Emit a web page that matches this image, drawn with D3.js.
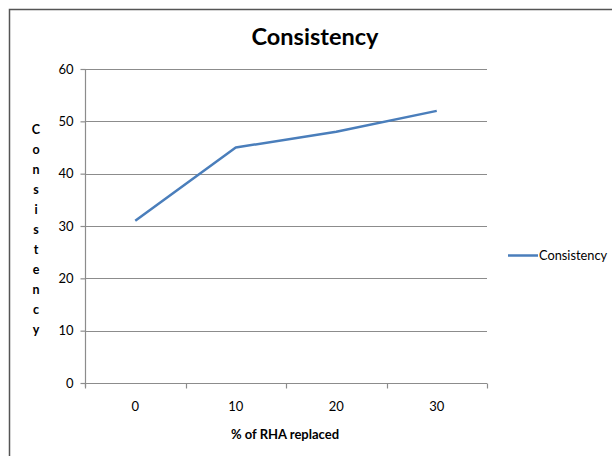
<!DOCTYPE html>
<html>
<head>
<meta charset="utf-8">
<script src="https://cdn.jsdelivr.net/npm/d3@7"></script>
<style>
  html, body { margin: 0; padding: 0; background: #fff; }
  svg { display: block; }
  text { font-family: Lato, "Open Sans", sans-serif; fill: #000; }
</style>
</head>
<body>
<svg id="chart" width="612" height="456"></svg>
<script>
// Consistency vs. % of RHA replaced
const categories = ["0", "10", "20", "30"];
const consistency = [31, 45, 48, 52];
const yTicks = [0, 10, 20, 30, 40, 50, 60];
const seriesName = "Consistency";
const chartTitle = "Consistency";
const xTitle = "% of RHA replaced";
const yTitle = "Consistency";

const svg = d3.select("#chart");
const plot = { left: 85, right: 487, top: 69, bottom: 383 };

// outer frame
svg.append("path")
  .attr("d", "M9.5,470 V9.5 H620")
  .attr("fill", "none")
  .attr("stroke", "#555")
  .attr("stroke-width", 1.5);

const x = d3.scaleBand().domain(categories).range([plot.left, plot.right]);
const y = d3.scaleLinear().domain([0, 60]).range([plot.bottom, plot.top]);

// horizontal gridlines
svg.append("g")
  .selectAll("line")
  .data(yTicks.filter(d => d > 0))
  .join("line")
  .attr("x1", plot.left).attr("x2", plot.right)
  .attr("y1", d => Math.round(y(d)) + 0.5).attr("y2", d => Math.round(y(d)) + 0.5)
  .attr("stroke", "#8c8c8c").attr("stroke-width", 1.2);

// y axis
const yAxis = svg.append("g")
  .attr("transform", `translate(${plot.left + 0.5},0)`)
  .call(d3.axisLeft(y).tickValues(yTicks).tickSize(5).tickPadding(7).tickSizeOuter(0));
yAxis.select(".domain").attr("stroke", "#8c8c8c").attr("stroke-width", 1.2)
  .attr("d", `M0,${plot.top}V${plot.bottom + 4}`);
yAxis.selectAll(".tick line").attr("stroke", "#8c8c8c").attr("stroke-width", 1.2);
yAxis.selectAll(".tick text").attr("font-size", 13).attr("font-family", "Lato, sans-serif").attr("fill", "#000");

// x axis (category boundaries as ticks)
const xAxisG = svg.append("g")
  .attr("transform", `translate(0,${Math.round(y(0)) + 0.5})`);
xAxisG.append("line")
  .attr("x1", plot.left).attr("x2", plot.right)
  .attr("stroke", "#8c8c8c").attr("stroke-width", 1.2);
const bounds = categories.map(c => x(c)).concat([x(categories[categories.length - 1]) + x.bandwidth()]);
xAxisG.selectAll("line.b")
  .data(bounds)
  .join("line").attr("class", "b")
  .attr("x1", d => Math.round(d) + 0.5).attr("x2", d => Math.round(d) + 0.5)
  .attr("y1", 0).attr("y2", 5)
  .attr("stroke", "#8c8c8c").attr("stroke-width", 1.2);
xAxisG.selectAll("text")
  .data(categories)
  .join("text")
  .attr("x", d => x(d) + x.bandwidth() / 2)
  .attr("y", 27)
  .attr("text-anchor", "middle")
  .attr("font-size", 13)
  .text(d => d);

// series line
const line = d3.line()
  .x((d, i) => x(categories[i]) + x.bandwidth() / 2)
  .y(d => y(d));
svg.append("path")
  .datum(consistency)
  .attr("d", line)
  .attr("fill", "none")
  .attr("stroke", "#4a7ebb")
  .attr("stroke-width", 2.5)
  .attr("stroke-linejoin", "round");

// chart title
svg.append("text")
  .attr("x", 315).attr("y", 45)
  .attr("text-anchor", "middle")
  .attr("font-size", 23.5).attr("font-weight", "bold")
  .text(chartTitle);

// x axis title
svg.append("text")
  .attr("x", 285).attr("y", 439)
  .attr("text-anchor", "middle")
  .attr("font-size", 13).attr("font-weight", "bold")
  .text(xTitle);

// y axis title, one letter per row
svg.append("g")
  .selectAll("text")
  .data(yTitle.split(""))
  .join("text")
  .attr("x", 36)
  .attr("y", (d, i) => 134 + i * 20)
  .attr("text-anchor", "middle")
  .attr("font-size", 12.5).attr("font-weight", "bold")
  .text(d => d);

// legend
const legend = svg.append("g").attr("transform", "translate(508,255)");
legend.append("line")
  .attr("x1", 0).attr("x2", 30).attr("y1", 0.5).attr("y2", 0.5)
  .attr("stroke", "#4a7ebb").attr("stroke-width", 2.5);
legend.append("text")
  .attr("x", 31).attr("y", 5)
  .attr("font-size", 12.8)
  .text(seriesName);
</script>
</body>
</html>
